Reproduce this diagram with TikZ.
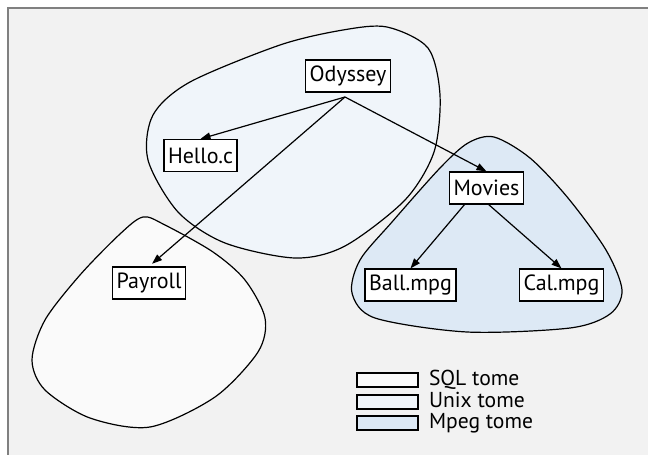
\documentclass[tikz,border=0pt]{standalone}
\usepackage{fontspec}
\setmainfont{PT Sans}
\usepackage{tikz}
\usetikzlibrary{arrows.meta, positioning}

\definecolor{sqlfill}{HTML}{FAFAFA}
\definecolor{unixfill}{HTML}{F0F5FA}
\definecolor{mpegfill}{HTML}{DDE9F5}

% outlines of the three tomes
\newcommand{\sqlshape}{plot[smooth cycle] coordinates {(143,217) (165,225) (213,252) (245,280) (265,318) (258,352) (215,397) (150,427) (90,418) (45,390) (32,360) (45,320) (80,275) (120,234)}}
\newcommand{\unixshape}{plot[smooth cycle] coordinates {(387,27) (428,48) (440,95) (434,152) (405,200) (345,246) (295,258) (225,243) (178,212) (148,160) (153,115) (190,82) (280,45) (343,30)}}
\newcommand{\mpegshape}{plot[smooth cycle] coordinates {(494,137) (530,158) (568,198) (606,250) (622,290) (610,314) (570,328) (467,332) (375,318) (352,293) (360,260) (392,222) (440,168) (468,143)}}

\begin{document}
\begin{tikzpicture}[x=0.5pt, y=-0.5pt, every node/.style={font=\fontsize{11}{13}\selectfont}]

\tikzstyle{file} = [rectangle, draw=black, fill=white, line width=0.6pt, minimum height=16pt, inner xsep=2pt, inner ysep=0pt]
\tikzstyle{key} = [rectangle, draw=black, line width=0.6pt, minimum width=30.5pt, minimum height=7pt, inner sep=0pt]
\tikzstyle{keytext} = [inner sep=0pt, anchor=west, text height=7pt, text depth=2pt, font=\fontsize{10.8}{12}\selectfont]
\tikzstyle{arrow} = [line width=0.6pt, -{Triangle[length=5pt, width=3.6pt]}]
\tikzstyle{tome} = [line width=0.6pt]

\useasboundingbox (0,0) rectangle (648,455);

% frame
\fill[gray!10] (7,7) rectangle (648,455);
\draw[gray, line width=1pt] (7.5,455) -- (7.5,7.5) -- (648,7.5);

% tomes
\fill[sqlfill] \sqlshape;
\fill[unixfill] \unixshape;
\fill[mpegfill] \mpegshape;
\draw[tome] \sqlshape;
\draw[tome] \unixshape;
\draw[tome] \mpegshape;

% Nodes
\node (odyssey) [file] at (348,76) {Odyssey};
\node (hello) [file] at (200.5,155.5) {Hello.c};
\node (movies) [file] at (486.5,188) {Movies};
\node (payroll) [file] at (149,283) {Payroll};
\node (ball) [file] at (410.5,285) {Ball.mpg};
\node (cal) [file] at (561.5,285) {Cal.mpg};

\coordinate (fork) at (345,97);
\coordinate (movl) at (465,204);
\coordinate (movr) at (488,204);

% Arrows
\draw [arrow] (fork) -- (hello.north);
\draw [arrow, shorten >=2pt] (fork) -- (payroll.north);
\draw [arrow] (fork) -- (movies.north);
\draw [arrow] (movl) -- (ball.north);
\draw [arrow] (movr) -- (cal.north);

% Legend
\node (keysql) [key, fill=sqlfill] at (387.5,380) {};
\node (keyunix) [key, fill=unixfill] at (387.5,402) {};
\node (keympeg) [key, fill=mpegfill] at (387.5,423) {};
\node [keytext, right=5pt of keysql.east, anchor=west] {SQL tome};
\node [keytext, right=5pt of keyunix.east, anchor=west] {Unix tome};
\node [keytext, right=5pt of keympeg.east, anchor=west] {Mpeg tome};

\end{tikzpicture}
\end{document}
